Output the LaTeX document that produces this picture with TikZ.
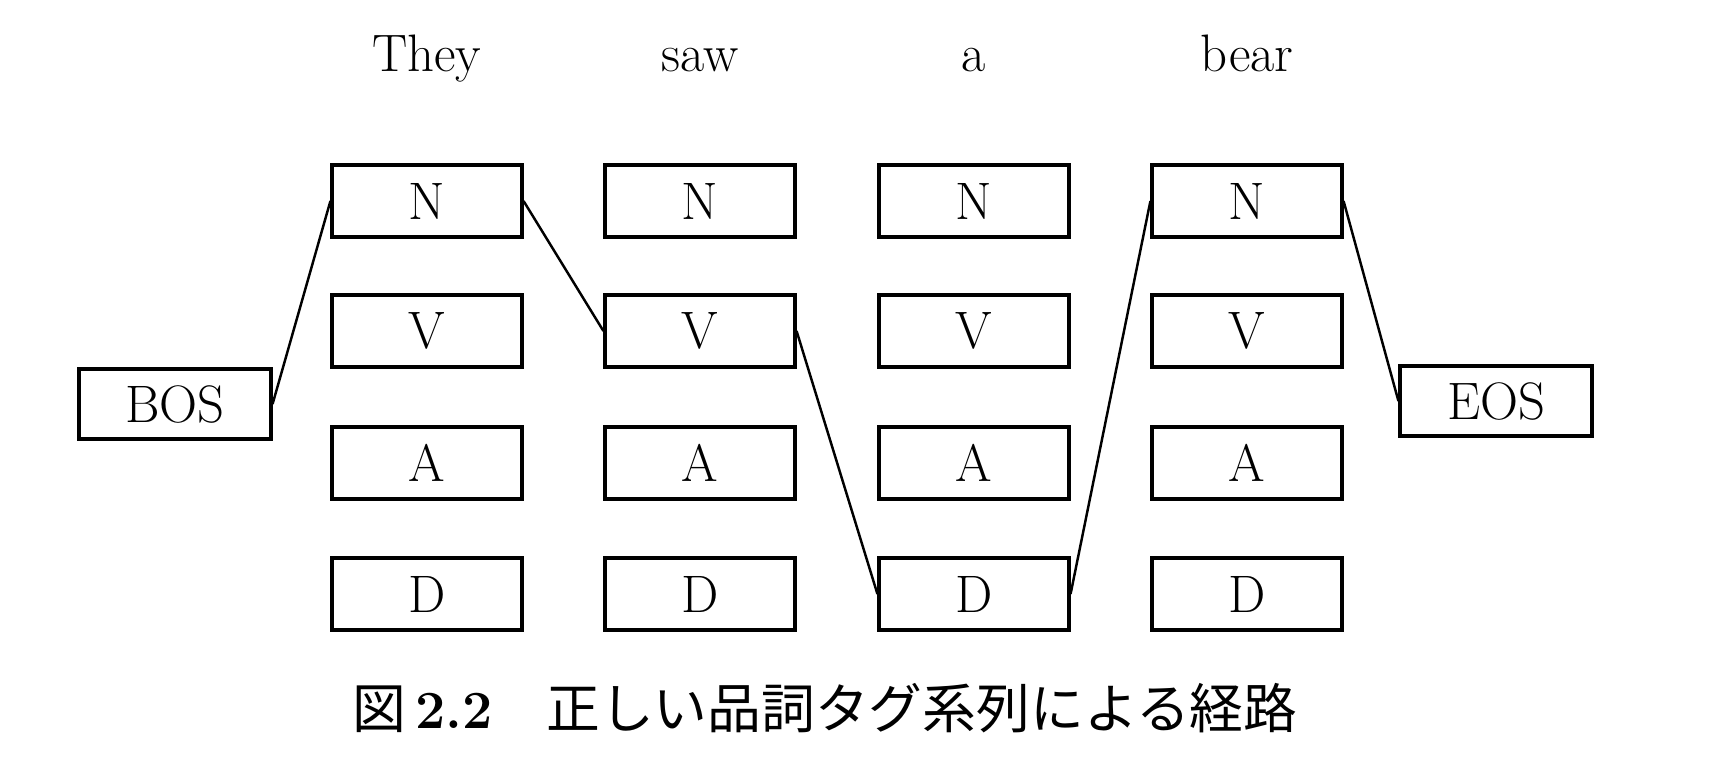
\documentclass[tikz,border=0pt]{standalone}
\usepackage{fontspec}
\newfontfamily\jpfont{Noto Sans CJK JP}
\usetikzlibrary{positioning}
\tikzset{tag/.style={draw,line width=0.9pt,minimum width=1.9cm,minimum height=0.72cm,inner sep=0pt,font=\fontsize{15}{18}\selectfont},
         word/.style={anchor=base,font=\fontsize{15}{18}\selectfont}}

\begin{document}
\begin{tikzpicture}
            \useasboundingbox (0,0) rectangle (17.22,-7.79);% fix the margins
            % the words
            \node[word] (w1) at (4.27,-0.71) {They};
            \node[word] (w2) at (7.00,-0.71) {saw};
            \node[word] (w3) at (9.74,-0.71) {a};
            \node[word] (w4) at (12.47,-0.71) {bear};
            % start and end
            \node[tag,minimum width=1.92cm,minimum height=0.70cm] (bos) at (1.75,-4.04) {BOS};
            \node[tag,minimum width=1.92cm,minimum height=0.70cm] (eos) at (14.96,-4.01) {EOS};
            % tags of the first word
            \node[tag] (n1) at (4.27,-2.01) {N};
            \node[tag] (v1) at (4.27,-3.31) {V};
            \node[tag] (a1) at (4.27,-4.63) {A};
            \node[tag] (d1) at (4.27,-5.94) {D};
            % tags of the second word
            \node[tag] (n2) at (7.00,-2.01) {N};
            \node[tag] (v2) at (7.00,-3.31) {V};
            \node[tag] (a2) at (7.00,-4.63) {A};
            \node[tag] (d2) at (7.00,-5.94) {D};
            % tags of the third word
            \node[tag] (n3) at (9.74,-2.01) {N};
            \node[tag] (v3) at (9.74,-3.31) {V};
            \node[tag] (a3) at (9.74,-4.63) {A};
            \node[tag] (d3) at (9.74,-5.94) {D};
            % tags of the fourth word
            \node[tag] (n4) at (12.47,-2.01) {N};
            \node[tag] (v4) at (12.47,-3.31) {V};
            \node[tag] (a4) at (12.47,-4.63) {A};
            \node[tag] (d4) at (12.47,-5.94) {D};
            % the path
            \draw[line width=0.7pt] (bos.east) -- (n1.west);
            \draw[line width=0.7pt] (n1.east) -- (v2.west);
            \draw[line width=0.7pt] (v2.east) -- (d3.west);
            \draw[line width=0.7pt] (d3.east) -- (n4.west);
            \draw[line width=0.7pt] (n4.east) -- (eos.west);
            % caption
            \node[font=\fontsize{15.3}{18}\selectfont] (cap) at (8.25,-7.08)
                {{\jpfont 図}\,{\rmfamily\bfseries 2.2}\quad{\jpfont 正しい品詞タグ系列による経路}};
        \end{tikzpicture}
\end{document}
